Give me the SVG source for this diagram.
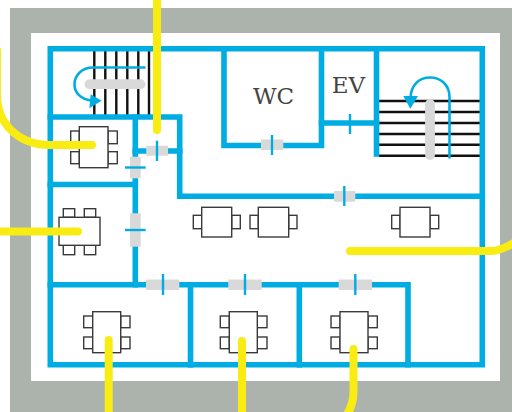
<svg xmlns="http://www.w3.org/2000/svg" width="512" height="412" viewBox="0 0 512 412">
<style>
.wall{fill:none;stroke:#00ade3;stroke-width:5.6;stroke-linecap:square;stroke-linejoin:miter}
.door{fill:#d9d9d9}
.mark{stroke:#00ade3;stroke-width:2.4;fill:none}
.tread{stroke:#111;stroke-width:2.4;fill:none}
.pill{stroke:#d9d9d9;stroke-width:9.8;stroke-linecap:round;fill:none}
.flow{stroke:#00ade3;stroke-width:2.6;fill:none}
.head{fill:#00ade3}
.furn rect{fill:#fff;stroke:#3a3a3a;stroke-width:1.4}
.cable{stroke:#f9ec13;stroke-width:8;stroke-linecap:round;fill:none}
.lbl{font-family:"DejaVu Serif","Liberation Serif",serif;font-size:23px;fill:#444;text-anchor:middle}
</style>
<rect x="0" y="0" width="512" height="412" fill="#fff"/>
<path id="building" fill="#abb3ac" fill-rule="evenodd" d="M10 8H512V412H10ZM31 33V381H500V33Z"/>
<g id="stairs-left">
<path class="tread" d="M94.3 51V115M105.3 51V115M116.3 51V115M127.3 51V115M138.3 51V115M149 51V115"/>
<path class="pill" d="M89.5 84.2H140.5"/>
<path class="flow" d="M145.5 67.5H93C82 67.5 74.5 75 74.5 84.5C74.5 93 81 99 91 100.5"/>
<path class="head" d="M101.5 100.7L90.7 94.3L89.3 108.3Z"/>
</g>
<g id="stairs-right">
<path class="tread" d="M379 101H480M379 112H480M379 123H480M379 134H480M379 144.8H480M379 155.7H480"/>
<path class="pill" d="M430 104V155"/>
<path class="flow" d="M449.5 158.5V97C449.5 85 441 77.5 430 77.5C419 77.5 411 85 410.5 98"/>
<path class="head" d="M410.3 108.7L403.3 96H418Z"/>
</g>
<g id="walls">
<path class="wall" d="M50.3 48.8H482.3V364.8H50.3Z"/>
<path class="wall" d="M50.3 117H179.7V196.2H482.3"/>
<path class="wall" d="M135.3 117V284.8"/>
<path class="wall" d="M135.3 151H179.7"/>
<path class="wall" d="M50.3 184.5H135.3"/>
<path class="wall" d="M224 48.8V145.5H321.5V48.8"/>
<path class="wall" d="M321.5 123H376.5"/>
<path class="wall" d="M376.5 48.8V154"/>
<path class="wall" d="M50.3 284.8H408V364.8"/>
<path class="wall" d="M190.5 284.8V364.8"/>
<path class="wall" d="M299.3 284.8V364.8"/>
</g>
<g id="doors">
<rect class="door" x="146.3" y="145.7" width="21.7" height="10"/><path class="mark" d="M157 140.7V161"/>
<rect class="door" x="130" y="156.7" width="10.7" height="21.6"/><path class="mark" d="M125 167.5H145.7"/>
<rect class="door" x="130" y="213.3" width="10.7" height="33.4"/><path class="mark" d="M125 230H145.7"/>
<rect class="door" x="146" y="279.5" width="33.3" height="10.5"/><path class="mark" d="M163 274V295"/>
<rect class="door" x="228.3" y="279.5" width="33.4" height="10.5"/><path class="mark" d="M245 274V295"/>
<rect class="door" x="338.7" y="279.5" width="33.3" height="10.5"/><path class="mark" d="M355.3 274V295"/>
<rect class="door" x="261" y="139.5" width="22.3" height="10.5"/><path class="mark" d="M272 135V155"/>
<path class="mark" d="M350 114V134"/>
<rect class="door" x="334" y="191" width="21.3" height="10.7"/><path class="mark" d="M344.3 186V206"/>
</g>
<g id="wc"><text class="lbl" x="273.5" y="104">WC</text></g>
<g id="ev"><text class="lbl" x="348.5" y="93">EV</text></g>
<g id="table-1" class="furn">
<rect x="70.7" y="131" width="8.6" height="12.7"/><rect x="70.7" y="151.7" width="8.6" height="12"/>
<rect x="108" y="131" width="9.3" height="12.7"/><rect x="108" y="151.7" width="9.3" height="12"/>
<rect x="79.3" y="126.7" width="28.7" height="41"/>
</g>
<g id="table-2" class="furn">
<rect x="63.3" y="208.7" width="11.4" height="8.6"/><rect x="84.3" y="208.7" width="11.4" height="8.6"/>
<rect x="63.3" y="245.3" width="11.4" height="9.4"/><rect x="84.3" y="245.3" width="11.4" height="9.4"/>
<rect x="59" y="217.3" width="41" height="28"/>
</g>
<g id="table-3" class="furn">
<rect x="193.3" y="215.3" width="8.4" height="13.4"/><rect x="231.7" y="215.3" width="8.6" height="13.4"/>
<rect x="201.7" y="207.3" width="30" height="29.7"/>
</g>
<g id="table-4" class="furn">
<rect x="250" y="215.3" width="8.3" height="13.4"/><rect x="288.7" y="215.3" width="8.3" height="13.4"/>
<rect x="258.3" y="207.3" width="30.4" height="29.7"/>
</g>
<g id="table-5" class="furn">
<rect x="391.7" y="215.3" width="8.3" height="13.4"/><rect x="430" y="215.3" width="8.7" height="13.4"/>
<rect x="400" y="207.3" width="30" height="29.7"/>
</g>
<g id="table-6" class="furn">
<rect x="83.7" y="316" width="9" height="11.7"/><rect x="83.7" y="337" width="9" height="11.7"/>
<rect x="120.7" y="316" width="9.3" height="11.7"/><rect x="120.7" y="337" width="9.3" height="11.7"/>
<rect x="92.7" y="311.7" width="28" height="41"/>
</g>
<g id="table-7" class="furn">
<rect x="220.3" y="316" width="9" height="11.7"/><rect x="220.3" y="337" width="9" height="11.7"/>
<rect x="257.3" y="316" width="9.7" height="11.7"/><rect x="257.3" y="337" width="9.7" height="11.7"/>
<rect x="229.3" y="311.7" width="28" height="41"/>
</g>
<g id="table-8" class="furn">
<rect x="331" y="316" width="9" height="11.7"/><rect x="331" y="337" width="9" height="11.7"/>
<rect x="368" y="316" width="9.3" height="11.7"/><rect x="368" y="337" width="9.3" height="11.7"/>
<rect x="340" y="311.7" width="28" height="41"/>
</g>
<g id="connectors">
<path class="cable" d="M157 -6V130"/>
<path class="cable" d="M-3 50V95C-3 125 20 145 50 145H92"/>
<path class="cable" d="M-6 231.5H78"/>
<path class="cable" d="M108.7 340V418"/>
<path class="cable" d="M242 341V418"/>
<path class="cable" d="M353.5 349V392C353.5 403 350 410 345 418"/>
<path class="cable" d="M350 251H490C500 251 508 247 518 240"/>
</g>
</svg>
